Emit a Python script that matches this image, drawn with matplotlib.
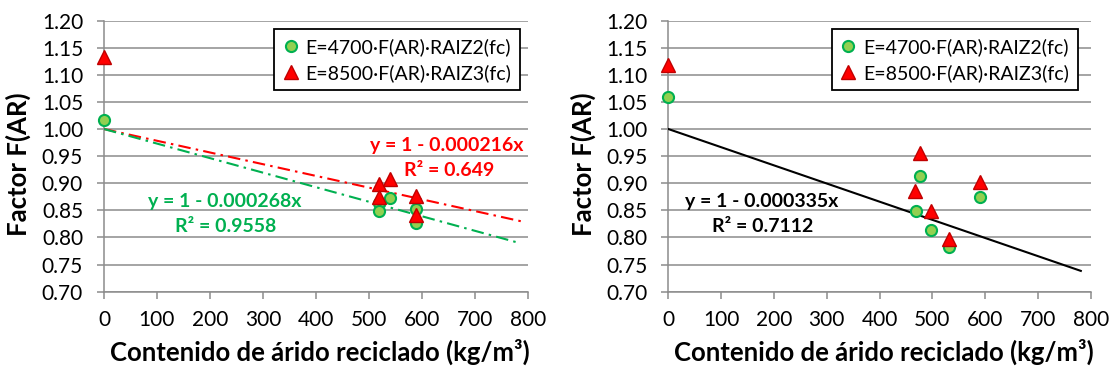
import matplotlib
matplotlib.use("Agg")
import matplotlib.pyplot as plt
import numpy as np
from matplotlib.lines import Line2D

plt.rcParams['font.family'] = ['Lato', 'DejaVu Sans']

# ---- data -------------------------------------------------------------
left_x_circ = [0, 520, 520, 540, 590, 590]
left_y_circ = [1.016, 0.864, 0.848, 0.872, 0.853, 0.826]
left_x_tri = [0, 520, 540, 520, 590, 590]
left_y_tri = [1.132, 0.899, 0.908, 0.875, 0.876, 0.842]

right_x_circ = [0, 477, 468, 497, 531, 590]
right_y_circ = [1.059, 0.913, 0.848, 0.814, 0.783, 0.874]
right_x_tri = [0, 477, 467, 497, 531, 590]
right_y_tri = [1.118, 0.956, 0.885, 0.848, 0.798, 0.902]

slope_green_left = 0.000268
r2_green_left = 0.9558
slope_red_left = 0.000216
r2_red_left = 0.649
slope_right = 0.000335
r2_right = 0.7112

label_circ = "E=4700·F(AR)·RAIZ2(fc)"
label_tri = "E=8500·F(AR)·RAIZ3(fc)"
xlabel = "Contenido de árido reciclado (kg/m³)"
ylabel = "Factor F(AR)"
xticks = [0, 100, 200, 300, 400, 500, 600, 700, 800]
yticks = [0.70, 0.75, 0.80, 0.85, 0.90, 0.95, 1.00, 1.05, 1.10, 1.15, 1.20]

# ---- styles -----------------------------------------------------------
GRID = '#8c8c8c'
GREEN_FILL = '#92d050'
GREEN_EDGE = '#00b050'
RED_FILL = '#ff0000'
RED_EDGE = '#c00000'
GREEN_TXT = '#00b050'
RED_TXT = '#ff0000'
dashdot = (0, (6, 2.5, 1.2, 2.5))

fig = plt.figure(figsize=(11.13, 3.72), dpi=100)
ax1 = fig.add_axes([0.0934, 0.2159, 0.3807, 0.7287])
ax2 = fig.add_axes([0.6005, 0.2159, 0.3796, 0.7287])


def style_axes(ax):
    ax.set_xlim(0, 800)
    ax.set_ylim(0.70, 1.20)
    ax.set_xticks(xticks)
    ax.set_yticks(yticks)
    ax.set_yticklabels([f"{v:.2f}" for v in yticks])
    ax.set_xticklabels([str(v) for v in xticks])
    ax.grid(axis='y', color=GRID, linewidth=1.1)
    ax.set_axisbelow(True)
    for s in ('top', 'right'):
        ax.spines[s].set_visible(False)
    for s in ('left', 'bottom'):
        ax.spines[s].set_color(GRID)
        ax.spines[s].set_linewidth(1.1)
    ax.tick_params(axis='both', direction='out', length=5.0, width=1.1,
                   color=GRID, labelsize=15)
    ax.tick_params(axis='x', pad=8)
    ax.tick_params(axis='y', pad=10)
    ax.set_xlabel(xlabel, fontsize=18.5, fontweight='bold')
    ax.set_ylabel(ylabel, fontsize=18.5, fontweight='bold')
    ax.xaxis.set_label_coords(0.51, -0.175)
    ax.yaxis.set_label_coords(-0.172, 0.47)


def scatter(ax, xc, yc, xt, yt):
    ax.plot(xc, yc, 'o', ms=8, mfc=GREEN_FILL, mec=GREEN_EDGE, mew=1.5,
            linestyle='none', clip_on=False, zorder=4)
    ax.plot(xt, yt, '^', ms=9.5, mfc=RED_FILL, mec=RED_EDGE, mew=1.0,
            linestyle='none', clip_on=False, zorder=5)


def legend(ax, anchor):
    handles = [
        Line2D([], [], marker='o', ms=8, mfc=GREEN_FILL, mec=GREEN_EDGE,
               mew=1.5, linestyle='none'),
        Line2D([], [], marker='^', ms=9.5, mfc=RED_FILL, mec=RED_EDGE,
               mew=1.0, linestyle='none'),
    ]
    leg = ax.legend(handles, [label_circ, label_tri], loc='upper right',
                    bbox_to_anchor=anchor, borderaxespad=0, fontsize=14,
                    frameon=True, fancybox=False, handlelength=0.8,
                    handletextpad=0.35, borderpad=0.45, labelspacing=0.42)
    leg.get_frame().set_edgecolor('black')
    leg.get_frame().set_linewidth(1.3)
    leg.get_frame().set_alpha(1)


# ---- left panel -------------------------------------------------------
style_axes(ax1)
xs = np.array([0, 790])
ax1.plot(xs, 1 - slope_red_left * xs, color=RED_TXT, linestyle=dashdot,
         linewidth=1.5, zorder=3)
xg = np.array([0, 781])
ax1.plot(xg, 1 - slope_green_left * xg, color=GREEN_EDGE, linestyle=dashdot,
         linewidth=1.5, zorder=3)
scatter(ax1, left_x_circ, left_y_circ, left_x_tri, left_y_tri)
legend(ax1, (0.982, 0.969))
ax1.text(791, 0.970, f"y = 1 - {slope_red_left:.6f}x", color=RED_TXT,
         fontsize=14, fontweight='bold', ha='right', va='center')
ax1.text(651, 0.924, f"R² = {r2_red_left}", color=RED_TXT,
         fontsize=14, fontweight='bold', ha='center', va='center')
ax1.text(228, 0.867, f"y = 1 - {slope_green_left:.6f}x", color=GREEN_TXT,
         fontsize=14, fontweight='bold', ha='center', va='center')
ax1.text(230, 0.821, f"R² = {r2_green_left}", color=GREEN_TXT,
         fontsize=14, fontweight='bold', ha='center', va='center')

# ---- right panel ------------------------------------------------------
style_axes(ax2)
xr = np.array([0, 781])
ax2.plot(xr, 1 - slope_right * xr, color='black', linewidth=1.5, zorder=3)
scatter(ax2, right_x_circ, right_y_circ, right_x_tri, right_y_tri)
legend(ax2, (0.9686, 0.969))
ax2.text(177, 0.866, f"y = 1 - {slope_right:.6f}x", color='black',
         fontsize=14, fontweight='bold', ha='center', va='center')
ax2.text(178, 0.821, f"R² = {r2_right}", color='black',
         fontsize=14, fontweight='bold', ha='center', va='center')

fig.savefig("out.png", dpi=100)
